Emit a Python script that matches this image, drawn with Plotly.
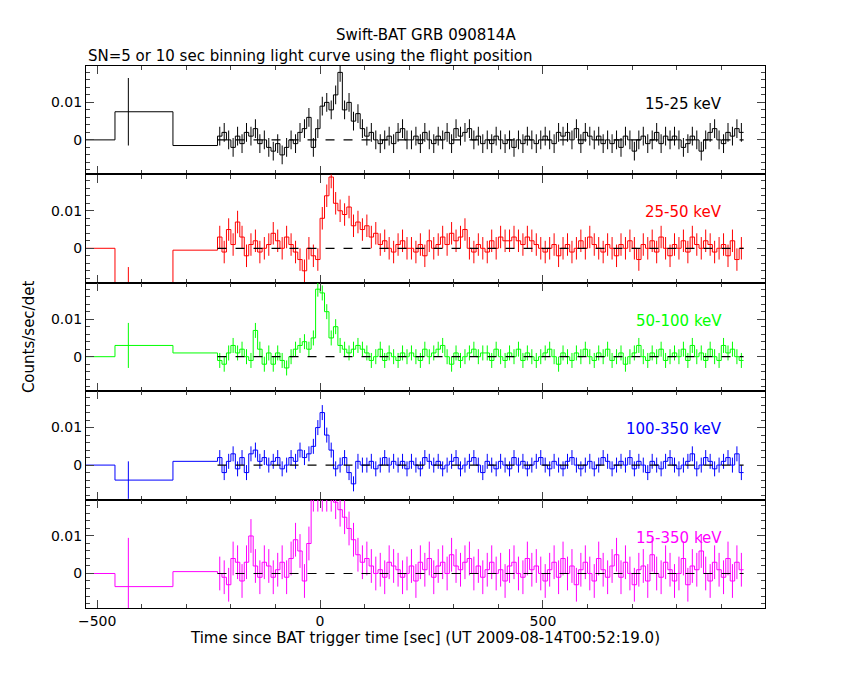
import plotly.graph_objects as go
from plotly.subplots import make_subplots

# long bins at the start, then 10 s bins from -230 to 950
long_edges = [-525, -460, -330, -230]
long_err_x = [-492, -430, -280]
bin_step = 10
fine_start = -230

# rates in units of 1e-3 counts/sec/det
long_vals = {
    "15-25 keV": [0, 7.5, -1.5],
    "25-50 keV": [0, -14, -0.5],
    "50-100 keV": [0, 3, 1],
    "100-350 keV": [0, -4, 1],
    "15-350 keV": [0, -3.5, 0.5],
}
long_errs = {
    "15-25 keV": [0, 9, 0],
    "25-50 keV": [0, 9, 0],
    "50-100 keV": [0, 6, 0],
    "100-350 keV": [0, 5, 0],
    "15-350 keV": [0, 13, 0],
}

p1 = [1, 2, 0, -2, 1, -1, 2, 1, 3, -1, 0, -2, -3, -1, -4, -2, 0, -1,
      2, 3, 6, -2, 3,
      9, 10, 8, 12, 18, 8, 10, 5, 7, 3,
      1, 2, 0, -1, 0, 1, -1, 2, 3, 0,
      0, 1, -1, 2, 0, -1, 1, 0, 2, -1, 3, 1, 2, 3, 0, 1, -1, 0, -1, 1,
      0, -1, 0, -2, 0, -1, 1, 0, -1, 0, 1, 0, -1, 2, 1, 2, 0, 3, -1, 2,
      1, 0, 1, -1, 0, -1, 0, -2, 1, 0, -3, 0, 1, -1, 0, 2, -1, 1, 0, 1,
      0, -2, -1, 1, 0, -3, 0, 2, 3, 0, -1, 2, 1, 3, 2]
p2 = [3, -1, 5, 1, 7, 3, -2, 1, 2, -1, 0, 1, 4, 2, 0, 3, 1, -1,
      -3, -6, 0, -2, -3,
      8, 14, 19, 12, 10, 9, 11, 6, 7, 5,
      6, 3, 4, 1, 2, 0, -1, 1, 2, 0,
      0, -1, 1, -2, 2, 0, 1, 3, 1, 4, 2, 3, 5, 0, -1, 1, 0, -1, 2, 0,
      3, 2, 2, 3, 2, 1, 3, 2, 1, 0, -1, 0, 1, -2, 0, 1, -1, 0, 2, 0,
      3, 1, 0, -1, 1, 0, -2, 1, 0, 2, 0, -3, 1, 0, 2, -1, 3, 0, -2, 1,
      0, 2, -1, 3, 1, 0, 2, 1, -1, 0, 1, -2, 2, -3, 0]
p3 = [-1, -2, 1, 3, 1, 2, 0, -1, 7, 2, -2, 1, -2, 1, -1, -3, 0, 2,
      3, 4, 2, 5, 18,
      17, 12, 5, 8, 3, 2, 1, 2, 3, 2,
      1, -1, 0, 2, -1, 1, 0, -1, 1, 0,
      1, 0, -1, 2, 0, 1, 2, 3, 0, -2, 1, -1, 0, 1, 2, 0, 1, 1, -1, 2,
      0, -1, 1, 0, 2, -1, 1, 0, -1, 0, 1, 2, 0, -2, 1, 0, -1, 1, 0, 2,
      0, -1, 1, 0, 2, -1, 0, 1, -2, 0, 1, 3, 0, -1, 1, 0, 2, -1, 0, 1,
      0, 2, -1, 3, 0, 1, -1, 2, 0, -1, 3, 1, 2, 0, -1]
p4 = [2, -2, 1, 3, -1, 2, -2, 3, 4, 1, 2, 0, 1, 2, -1, 0, 2, 1,
      4, 2, 3, 5, 10,
      14, 8, 4, -1, 0, 2, -2, -5, 1, 0,
      0, 1, -1, 0, 2, 0, 1, 0, 1, -1,
      1, 0, -1, 2, 1, 0, 1, -1, 0, 1, 2, -1, 0, 1, 2, 0, -2, 1, 0, -1,
      1, 0, -1, 2, 0, 1, -1, 0, 1, 2, 0, -1, 1, 0, -1, 1, 2, 0, -1, 0,
      1, -1, 0, 2, 1, -1, 0, 1, 0, 2, -1, 1, 0, -2, 1, 0, -1, 1, 2, 0,
      -1, 0, 1, 3, -1, 0, 2, 1, -1, 0, 1, 2, 0, 3, -2]
p5 = [0, -1, -3, 4, 3, -2, 3, 10, 2, -1, 3, 2, -1, 1, 3, -1, 4, 9,
      6, -2, 8, 21, 21,
      21, 21, 21, 19, 17, 15, 12, 9, 5, 3,
      4, 2, 0, 1, -1, 3, 2, 1, -1, 0,
      2, -2, 3, 1, 4, -1, 2, 3, 0, 5, 2, 1, 3, 4, 0, 2, -1, 1, 3, 0,
      1, -2, 2, 3, 0, -1, 4, 1, 2, 0, -2, 1, 3, -1, 4, 0, 2, -3, 1, 3,
      0, -2, 4, 1, -1, 2, 5, -1, 3, 0, -3, 1, 2, -2, 5, 0, -1, 3, 1, -2,
      0, 4, -3, 2, 1, 6, 0, -2, 3, 1, -1, 4, -2, 3, 1]

bands = ["15-25 keV", "25-50 keV", "50-100 keV", "100-350 keV", "15-350 keV"]
fine_vals = [p1, p2, p3, p4, p5]
fine_err = [2.5, 3.0, 2.0, 2.0, 4.5]
colors = ["black", "red", "#00ff00", "blue", "magenta"]

fig = make_subplots(rows=5, cols=1, shared_xaxes=True, vertical_spacing=0)

for i, band in enumerate(bands):
    vals = long_vals[band] + fine_vals[i]
    n_fine = len(fine_vals[i])
    edges = long_edges + [fine_start + bin_step * (k + 1) for k in range(n_fine)]
    errs = long_errs[band] + [fine_err[i]] * n_fine
    sx, sy = [], []
    for k, v in enumerate(vals):
        sx += [edges[k], edges[k + 1]]
        sy += [v, v]
    cx = long_err_x + [(edges[k] + edges[k + 1]) / 2 for k in range(3, len(vals))]
    row = i + 1
    fig.add_trace(go.Scatter(x=sx, y=sy, mode="lines",
                             line=dict(color=colors[i], width=1)), row=row, col=1)
    fig.add_trace(go.Scatter(x=cx, y=vals, mode="markers", marker=dict(size=0.1, color=colors[i]),
                             error_y=dict(type="data", array=errs, color=colors[i],
                                          thickness=1, width=0)), row=row, col=1)
    fig.add_trace(go.Scatter(x=[fine_start, 950], y=[0, 0], mode="lines",
                             line=dict(color="black", width=1.2, dash="dash")), row=row, col=1)
    fig.add_annotation(x=0.94, y=0.75, xref="x domain" if row == 1 else f"x{row} domain",
                       yref="y domain" if row == 1 else f"y{row} domain",
                       text=band, showarrow=False, xanchor="right",
                       font=dict(color=colors[i], size=15))
    fig.update_yaxes(row=row, col=1, range=[-9.2, 19.7], tickvals=[0, 10], ticktext=["0", "0.01"],
                     ticks="inside", ticklen=8, mirror="allticks", showline=True,
                     linecolor="black", linewidth=1.2, showgrid=False, zeroline=False,
                     minor=dict(ticks="inside", ticklen=4, dtick=2, tick0=0),
                     tickfont=dict(size=14))

fig.update_xaxes(range=[-525, 998], dtick=500, tick0=0, ticks="inside", ticklen=8,
                 mirror="allticks", showline=True, linecolor="black", linewidth=1.2,
                 showgrid=False, zeroline=False,
                 minor=dict(ticks="inside", ticklen=4, dtick=100), tickfont=dict(size=14))
fig.update_xaxes(row=5, col=1, title=dict(
    text="Time since BAT trigger time [sec] (UT 2009-08-14T00:52:19.0)", font=dict(size=15), standoff=2))

fig.add_annotation(x=0.5, y=1.0, xref="paper", yref="paper", yshift=42, showarrow=False,
                   text="Swift-BAT GRB 090814A", font=dict(size=15))
fig.add_annotation(x=0.0, y=1.0, xref="paper", yref="paper", yshift=21, showarrow=False,
                   xanchor="left", text="SN=5 or 10 sec binning light curve using the flight position",
                   font=dict(size=15))
fig.add_annotation(x=-0.1, y=0.5, xref="paper", yref="paper", showarrow=False, textangle=-90,
                   text="Counts/sec/det", font=dict(size=15))

fig.update_layout(width=850, height=680, showlegend=False, plot_bgcolor="white",
                  paper_bgcolor="white",
                  margin=dict(l=78, r=93, t=58, b=80, autoexpand=False),
                  font=dict(family="DejaVu Sans", color="black"))
fig.write_html("out.html")
